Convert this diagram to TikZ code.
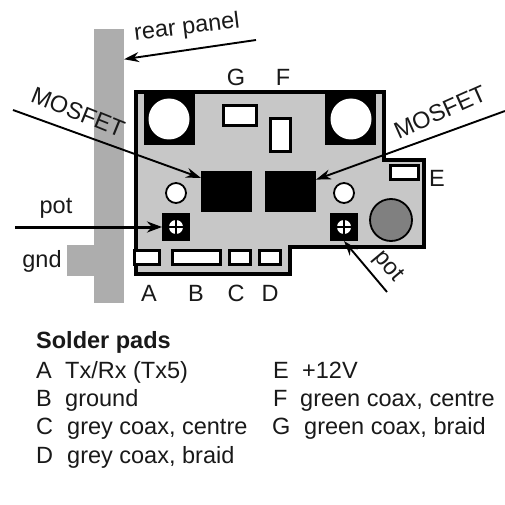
\documentclass[tikz,border=0pt]{standalone}
\usepackage{fontspec}
\setmainfont{Liberation Sans}
\usetikzlibrary{arrows.meta}
\tikzset{
  x=1pt,y=-1pt,
  box/.style={inner sep=0pt,outer sep=0pt,anchor=north west},
  blackbox/.style={box,fill=black},
  padbox/.style={box,draw=black,line width=3.2pt,fill=white},
  panelbox/.style={box,fill=panelgrey},
  lbl/.style={font=\fontsize{23.5}{27}\selectfont,inner sep=0pt,text=black!90},
  rowlbl/.style={lbl,anchor=base west},
  ptr/.style={line width=1.9pt,-{Stealth[length=15pt,width=10pt]}},
  ptrthick/.style={line width=3pt,-{Stealth[length=15pt,width=11pt]}},
  hole/.style={circle,fill=white,inner sep=0pt,minimum size=41pt},
  via/.style={circle,fill=white,draw=black,line width=1.8pt,inner sep=0pt,minimum size=20pt},
  screwcross/.style={line width=1.4pt,draw=black},
}
\definecolor{panelgrey}{gray}{0.68}
\definecolor{boardgrey}{gray}{0.78}
\begin{document}
\begin{tikzpicture}
\useasboundingbox (0,0) rectangle (505,505);
\fill[white] (0,0) rectangle (505,505);
% rear panel
\node[panelbox,minimum width=30pt,minimum height=274pt] (panel) at (94,29) {};
\node[panelbox,minimum width=27pt,minimum height=31pt] (tab) at (67,245) {};
% board
\draw[fill=boardgrey,line width=3.6pt,miter limit=10] (136,92) -- (384,92) -- (384,160) -- (424,160) -- (424,247) -- (290,247) -- (290,274) -- (136,274) -- cycle;
% mounting blocks
\node[blackbox,minimum width=51pt,minimum height=55pt] (blockL) at (144,90) {};
\node[blackbox,minimum width=51pt,minimum height=55pt] (blockR) at (325,90) {};
\node[hole] (holeL) at (169,119) {};
\node[hole] (holeR) at (351,119) {};
% pads
\node[padbox,minimum width=33pt,minimum height=20pt] (padG) at (223.5,105.5) {};
\node[padbox,minimum width=20pt,minimum height=33pt] (padF) at (270.5,118.5) {};
\node[padbox,minimum width=28pt,minimum height=14pt] (padE) at (390.5,165.5) {};
\node[padbox,minimum width=25pt,minimum height=14pt] (padA) at (134.5,250.5) {};
\node[padbox,minimum width=48pt,minimum height=14pt] (padB) at (172.5,250.5) {};
\node[padbox,minimum width=21pt,minimum height=14pt] (padC) at (229.5,250.5) {};
\node[padbox,minimum width=21pt,minimum height=14pt] (padD) at (259.5,250.5) {};
% MOSFETs
\node[blackbox,minimum width=51pt,minimum height=41pt] (mosfetL) at (201,171) {};
\node[blackbox,minimum width=51pt,minimum height=41pt] (mosfetR) at (265,171) {};
% vias
\node[via] (viaL) at (176,193) {};
\node[via] (viaR) at (344,193) {};
% pots
\node[blackbox,minimum width=28pt,minimum height=28pt] (potL) at (162,213) {};
\node[blackbox,minimum width=28pt,minimum height=28pt] (potR) at (330,213) {};
\node[circle,fill=white,inner sep=0pt,minimum size=14pt] (screwL) at (176,227) {};
\node[circle,fill=white,inner sep=0pt,minimum size=14pt] (screwR) at (344,227) {};
\draw[screwcross] (screwL.north) -- (screwL.south);
\draw[screwcross] (screwL.west) -- (screwL.east);
\draw[screwcross] (screwR.north) -- (screwR.south);
\draw[screwcross] (screwR.west) -- (screwR.east);
% knob
\node[circle,fill=black!50,draw=black,line width=1.8pt,inner sep=0pt,minimum size=42pt] (knob) at (391,220) {};
% free ends
\coordinate (rearFree) at (256,40);
\coordinate (mosLFree) at (13,110);
\coordinate (mosRFree) at (505,111);
\coordinate (potLFree) at (15,227);
\coordinate (potRFree) at (387,292);
% connectors
\draw[ptr] (rearFree) -- (panel.82.8);
\draw[ptr] (mosLFree) -- (mosfetL.152);
\draw[ptr] (mosRFree) -- (mosfetR.25);
\draw[ptrthick] (potLFree) -- (potL.west);
\draw[ptr] (potRFree) -- (potR.south);
% labels on the figure
\node[lbl,rotate=7] (tRear) at (187,28) {rear panel};
\node[lbl,rotate=-22] (tMosL) at (78,112) {MOSFET};
\node[lbl,rotate=24] (tMosR) at (440,112) {MOSFET};
\node[lbl] (tPotL) at (56,208) {pot};
\node[lbl,rotate=-50] (tPotR) at (388,267) {pot};
\node[lbl] (tGnd) at (42,261) {gnd};
\node[lbl] (tG) at (236,77) {G};
\node[lbl] (tF) at (283,77) {F};
\node[lbl] (tE) at (437,178) {E};
\node[lbl] (tA) at (149,293) {A};
\node[lbl] (tB) at (196,293) {B};
\node[lbl] (tC) at (236,293) {C};
\node[lbl] (tD) at (270,293) {D};
% legend
\node[rowlbl,font=\fontsize{23.5}{27}\selectfont\bfseries] (head) at (36,348) {Solder pads};
\node[rowlbl] (kA) at (36,378) {A};
\node[rowlbl] (vA) at (65,378) {Tx/Rx (Tx5)};
\node[rowlbl] (kB) at (36,406) {B};
\node[rowlbl] (vB) at (65,406) {ground};
\node[rowlbl] (kC) at (36,434) {C};
\node[rowlbl] (vC) at (67,434) {grey coax, centre};
\node[rowlbl] (kD) at (36,463) {D};
\node[rowlbl] (vD) at (67,463) {grey coax, braid};
\node[rowlbl] (kE) at (273,378) {E};
\node[rowlbl] (vE) at (302,378) {+12V};
\node[rowlbl] (kF) at (273,406) {F};
\node[rowlbl] (vF) at (300,406) {green coax, centre};
\node[rowlbl] (kG) at (272,434) {G};
\node[rowlbl] (vG) at (304,434) {green coax, braid};
\end{tikzpicture}
\end{document}
